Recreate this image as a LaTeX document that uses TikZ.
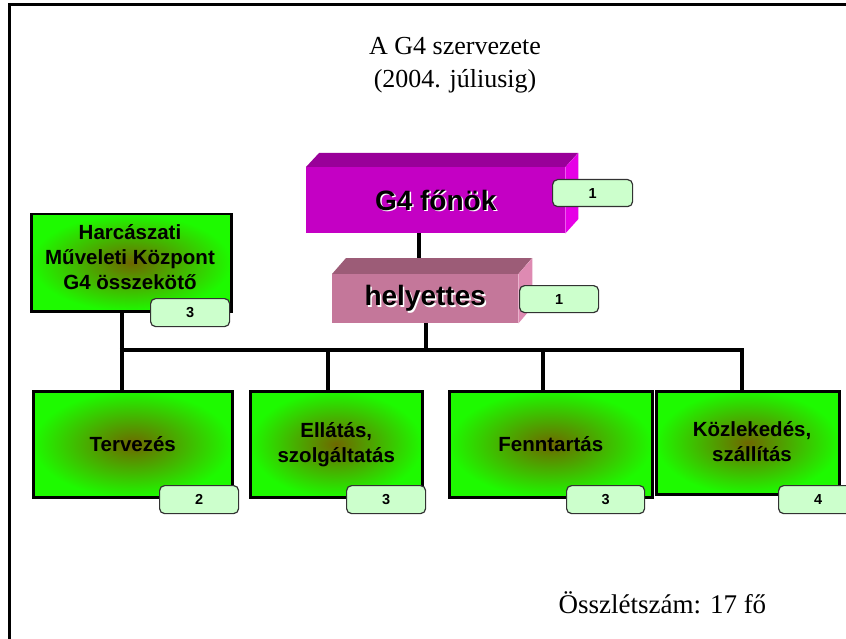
\documentclass[tikz,border=0pt]{standalone}
\usepackage{fontspec}
\setmainfont{Liberation Serif}
\newfontfamily\arialfont{Liberation Sans}
\definecolor{gfront}{RGB}{196,0,196}
\definecolor{gtop}{RGB}{153,0,153}
\definecolor{gside}{RGB}{230,0,230}
\definecolor{hfront}{RGB}{196,119,154}
\definecolor{htop}{RGB}{156,92,119}
\definecolor{hside}{RGB}{222,138,178}
\definecolor{boxgreen}{RGB}{30,250,0}
\definecolor{boxolive}{RGB}{110,104,0}
\definecolor{badgefill}{RGB}{204,255,204}
\definecolor{badgeline}{RGB}{50,50,50}
\tikzset{
  greenbox/.style={draw=black, line width=2.5pt, inner color=boxolive, outer color=boxgreen,
    anchor=north west, inner sep=0pt},
  badge/.style={draw=badgeline, line width=1.2pt, rounded corners=5pt, fill=badgefill,
    anchor=north west, inner sep=0pt, font=\arialfont\bfseries\fontsize{14.5}{16}\selectfont},
  boxtext/.style={align=center, font=\arialfont\bfseries\fontsize{20.5}{25}\selectfont},
  bigtext/.style={font=\arialfont\bfseries\fontsize{28}{32}\selectfont},
  conn/.style={line width=4.5pt},
  frontface/.style={anchor=north west, inner sep=0pt},
}
\begin{document}
\begin{tikzpicture}[x=1pt,y=-1pt]
\useasboundingbox (0,0) rectangle (846,639);
\fill[white] (0,0) rectangle (846,639);
% frame
\draw[line width=3pt] (9,639) -- (9,5) -- (846,5);
% title
\node[anchor=base] (t1) at (455,55) {\fontsize{26}{30}\selectfont A G4 szervezete};
\node[anchor=base] (t2) at (455,88) {\fontsize{26}{30}\selectfont (2004. júliusig)};
% box nodes (geometry)
\node[frontface, minimum width=259pt, minimum height=66pt] (g4) at (306,167) {};
\node[frontface, minimum width=186pt, minimum height=49pt] (hely) at (332,274) {};
% connectors
\coordinate (busL) at (122,350);
\coordinate (busR) at (742,350);
\draw[conn] (419,233) -- (419,266);
\draw[conn] (hely.south -| 426,0) -- (426,350);
\draw[conn] ([xshift=-2.25pt]busL) -- ([xshift=2.25pt]busR);
% G4 3D box
\fill[gtop] (g4.north west) -- ++(13,-14) -- ++(259,0) -- (g4.north east) -- cycle;
\fill[gside] (g4.north east) -- ++(13,-14) -- ++(0,66) -- (g4.south east) -- cycle;
\fill[gfront] (g4.north west) rectangle (g4.south east);
\node[bigtext, white] at ([xshift=1.5pt,yshift=-1.5pt]g4.center) {G4 főnök};
\node[bigtext] (g4t) at (g4.center) {G4 főnök};
% helyettes 3D box
\fill[htop] (hely.north west) -- ++(14,-16) -- ++(186,0) -- (hely.north east) -- cycle;
\fill[hside] (hely.north east) -- ++(14,-16) -- ++(0,49) -- (hely.south east) -- cycle;
\fill[hfront] (hely.north west) rectangle (hely.south east);
\node[bigtext, white] at ([xshift=1.5pt,yshift=-1.5pt]hely.center) {helyettes};
\node[bigtext] (helyt) at (hely.center) {helyettes};
% badges top
\node[badge, minimum width=80pt, minimum height=27pt] (bg4) at (552,179) {1};
\node[badge, minimum width=79pt, minimum height=27pt] (bhely) at (519,285) {1};
% HKMK
\node[greenbox, minimum width=200pt, minimum height=97pt] (hk) at (30,213) {};
\node[boxtext] (hkt) at (130,257) {Harcászati\\Műveleti Központ\\G4 összekötő};
\draw[conn] (hk.south -| busL) -- (busL);
\node[badge, minimum width=79pt, minimum height=28pt] (bhk) at (150,298) {3};
% bottom boxes
\draw[conn] (busL) -- (122,392);
\draw[conn] (328,350) -- (328,392);
\draw[conn] (543,350) -- (543,392);
\draw[conn] (busR) -- (742,392);
\node[greenbox, minimum width=199pt, minimum height=106pt] (terv) at (32,390) {};
\node[boxtext] at (terv.center) {Tervezés};
\node[badge, minimum width=79pt, minimum height=28pt] (bterv) at (159,485) {2};
\node[greenbox, minimum width=172pt, minimum height=106pt] (ell) at (249,390) {};
\node[boxtext] at (ell.center) {Ellátás,\\szolgáltatás};
\node[badge, minimum width=79pt, minimum height=28pt] (bell) at (346,485) {3};
\node[greenbox, minimum width=203pt, minimum height=106pt] (fenn) at (448,390) {};
\node[boxtext] at (fenn.center) {Fenntartás};
\node[badge, minimum width=78pt, minimum height=28pt] (bfenn) at (566,485) {3};
\node[greenbox, minimum width=183pt, minimum height=103pt] (kozl) at (655,390) {};
\node[boxtext] at (752,442) {Közlekedés,\\szállítás};
\node[badge, minimum width=79pt, minimum height=28pt, text width=79pt, align=center] (bkozl) at (778,485) {4};
% total
\node[anchor=base west] (ossz) at (555,613) {\fontsize{27}{30}\selectfont Összlétszám: 17 fő};
\end{tikzpicture}
\end{document}
